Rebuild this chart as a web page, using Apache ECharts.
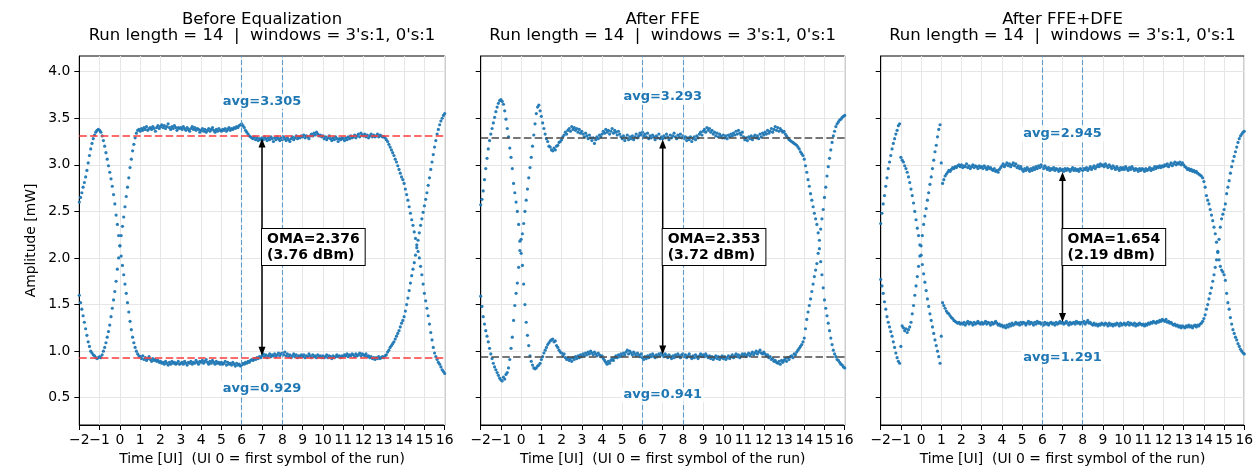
<!DOCTYPE html>
<html><head><meta charset="utf-8">
<script src="https://cdn.jsdelivr.net/npm/echarts@6/dist/echarts.min.js"></script>
<style>html,body{margin:0;padding:0;background:#fff}#c{width:1257px;height:472px}</style>
</head><body><div id="c"></div>
<script>
// ---------------- data ----------------
const X_START = -2;          // first sample time [UI]
const SAMPLES_PER_UI = 16;   // sample spacing of every trace
const X_MIN = -2, X_MAX = 16;
const X_TICKS = [-2,-1,0,1,2,3,4,5,6,7,8,9,10,11,12,13,14,15,16];
const Y_MIN = 0.207, Y_MAX = 4.168;
const Y_TICKS = [0.5, 1.0, 1.5, 2.0, 2.5, 3.0, 3.5, 4.0];
const PANEL_TITLES = ['Before Equalization', 'After FFE', 'After FFE+DFE'];
const SUBTITLE = "Run length = 14  |  windows = 3's:1, 0's:1";
const AVG_HIGH = [3.305, 3.293, 2.945];
const AVG_LOW = [0.929, 0.941, 1.291];
const OMA_MW = [2.376, 2.353, 1.654];
const OMA_DBM = [3.76, 3.72, 2.19];
const WINDOW_UI = [6, 8];
const ARROW_UI = 7;
const HI_LABEL_Y = [3.68, 3.73, 3.33];
const LO_LABEL_Y = [0.595, 0.53, 0.935];
const LEVEL_LINE = ['red', 'dark', 'none'];

// Panel 1: run of 3's (high) and run of 0's (low), 16 samples per UI from -2 to 16
const p1High = [
1.60,1.52,1.45,1.38,1.31,1.24,1.17,1.10,1.05,1.00,0.98,0.96,0.95,0.93,0.92,0.93,
0.94,0.93,0.96,1.00,1.04,1.09,1.15,1.21,1.28,1.37,1.46,1.55,1.64,1.75,1.88,2.00,
2.13,2.24,2.34,2.44,2.55,2.66,2.76,2.86,2.97,3.06,3.15,3.22,3.29,3.34,3.37,3.38,
3.36,3.39,3.37,3.40,3.38,3.41,3.37,3.39,3.40,3.38,3.41,3.39,3.36,3.40,3.42,3.39,
3.41,3.43,3.40,3.42,3.39,3.41,3.44,3.40,3.38,3.41,3.39,3.42,3.40,3.37,3.40,3.39,
3.40,3.38,3.41,3.39,3.37,3.40,3.38,3.36,3.39,3.41,3.38,3.40,3.37,3.39,3.38,3.35,
3.37,3.39,3.36,3.38,3.35,3.37,3.39,3.36,3.38,3.40,3.37,3.35,3.38,3.36,3.39,3.37,
3.36,3.38,3.37,3.39,3.36,3.38,3.40,3.37,3.39,3.38,3.40,3.39,3.41,3.40,3.42,3.43,
3.44,3.42,3.40,3.37,3.35,3.33,3.31,3.30,3.29,3.28,3.30,3.27,3.29,3.26,3.28,3.27,
3.29,3.27,3.30,3.28,3.26,3.29,3.27,3.30,3.28,3.25,3.29,3.27,3.30,3.28,3.26,3.29,
3.27,3.30,3.28,3.26,3.29,3.27,3.25,3.28,3.30,3.27,3.29,3.31,3.28,3.30,3.29,3.31,
3.30,3.32,3.29,3.31,3.30,3.28,3.31,3.33,3.31,3.34,3.32,3.35,3.33,3.31,3.32,3.30,
3.31,3.28,3.30,3.27,3.29,3.31,3.28,3.26,3.29,3.27,3.30,3.28,3.25,3.28,3.27,3.29,
3.28,3.26,3.29,3.27,3.30,3.28,3.31,3.29,3.30,3.32,3.29,3.31,3.33,3.30,3.34,3.32,
3.31,3.33,3.30,3.32,3.29,3.31,3.33,3.30,3.32,3.30,3.31,3.33,3.30,3.32,3.31,3.30,
3.30,3.29,3.27,3.25,3.22,3.19,3.16,3.13,3.10,3.06,3.03,2.99,2.95,2.91,2.87,2.84,
2.80,2.74,2.68,2.62,2.55,2.48,2.41,2.35,2.28,2.21,2.14,2.07,2.00,1.91,1.82,1.72,
1.62,1.54,1.46,1.38,1.29,1.20,1.12,1.04,0.98,0.94,0.91,0.88,0.86,0.83,0.80,0.78,
0.76];
const p1Low = [
2.60,2.65,2.70,2.76,2.81,2.87,2.94,3.02,3.10,3.17,3.23,3.28,3.32,3.35,3.37,3.38,
3.37,3.35,3.31,3.26,3.20,3.13,3.06,2.99,2.92,2.85,2.77,2.68,2.58,2.46,2.36,2.24,
2.13,2.02,1.92,1.82,1.72,1.62,1.52,1.42,1.32,1.23,1.15,1.09,1.04,1.00,0.97,0.95,
0.94,0.92,0.95,0.91,0.93,0.90,0.92,0.94,0.91,0.89,0.92,0.90,0.91,0.89,0.90,0.88,
0.89,0.87,0.88,0.86,0.89,0.87,0.85,0.88,0.86,0.89,0.87,0.88,0.86,0.87,0.89,0.86,
0.87,0.88,0.86,0.89,0.87,0.85,0.88,0.87,0.89,0.86,0.88,0.87,0.90,0.88,0.86,0.89,
0.88,0.90,0.87,0.89,0.91,0.88,0.86,0.89,0.87,0.90,0.88,0.86,0.89,0.87,0.88,0.86,
0.88,0.86,0.87,0.89,0.85,0.88,0.86,0.87,0.85,0.88,0.86,0.84,0.87,0.85,0.86,0.84,
0.85,0.87,0.86,0.88,0.87,0.89,0.88,0.90,0.91,0.90,0.92,0.91,0.93,0.92,0.94,0.93,
0.95,0.97,0.94,0.96,0.93,0.95,0.97,0.94,0.96,0.95,0.97,0.94,0.96,0.98,0.95,0.97,
0.98,0.96,0.99,0.95,0.97,0.94,0.96,0.93,0.95,0.97,0.94,0.96,0.93,0.95,0.94,0.96,
0.94,0.96,0.93,0.95,0.94,0.97,0.95,0.93,0.96,0.94,0.95,0.93,0.96,0.94,0.95,0.93,
0.95,0.93,0.94,0.96,0.93,0.95,0.94,0.92,0.95,0.93,0.94,0.96,0.94,0.95,0.93,0.95,
0.94,0.96,0.95,0.97,0.94,0.96,0.95,0.97,0.96,0.94,0.97,0.95,0.96,0.98,0.95,0.97,
0.96,0.95,0.97,0.94,0.95,0.93,0.94,0.92,0.93,0.91,0.93,0.92,0.94,0.92,0.93,0.94,
0.93,0.95,0.96,0.99,1.01,1.04,1.06,1.08,1.10,1.13,1.16,1.19,1.22,1.26,1.30,1.33,
1.37,1.43,1.50,1.57,1.65,1.73,1.81,1.88,1.95,2.03,2.11,2.19,2.27,2.35,2.42,2.49,
2.56,2.63,2.70,2.78,2.86,2.95,3.03,3.11,3.19,3.26,3.33,3.38,3.43,3.47,3.50,3.53,
3.55];

// Panel 2 (after FFE)
const p2High = [
1.59,1.48,1.37,1.29,1.22,1.16,1.10,1.03,0.97,0.92,0.87,0.83,0.80,0.77,0.74,0.71,
0.69,0.68,0.72,0.70,0.75,0.77,0.82,0.91,1.03,1.15,1.33,1.49,1.62,1.73,1.90,2.08,
2.20,2.26,2.37,2.50,2.62,2.74,2.86,2.97,3.08,3.20,3.32,3.44,3.55,3.62,3.64,3.58,
3.52,3.45,3.39,3.33,3.28,3.25,3.20,3.19,3.16,3.15,3.18,3.16,3.20,3.21,3.24,3.25,
3.27,3.30,3.32,3.35,3.33,3.37,3.39,3.36,3.41,3.38,3.40,3.37,3.39,3.35,3.38,3.34,
3.36,3.33,3.30,3.34,3.31,3.28,3.32,3.29,3.26,3.29,3.23,3.27,3.30,3.28,3.32,3.30,
3.33,3.36,3.34,3.38,3.35,3.37,3.33,3.36,3.39,3.34,3.37,3.35,3.32,3.36,3.33,3.30,
3.28,3.31,3.26,3.29,3.32,3.27,3.30,3.28,3.31,3.27,3.30,3.33,3.29,3.31,3.34,3.32,
3.35,3.31,3.33,3.30,3.34,3.28,3.31,3.29,3.32,3.30,3.27,3.31,3.29,3.33,3.28,3.30,
3.28,3.31,3.29,3.33,3.30,3.27,3.32,3.29,3.31,3.34,3.30,3.28,3.32,3.30,3.33,3.29,
3.31,3.28,3.30,3.26,3.29,3.27,3.30,3.25,3.28,3.30,3.27,3.31,3.29,3.33,3.35,3.32,
3.36,3.38,3.35,3.40,3.37,3.39,3.35,3.37,3.33,3.35,3.31,3.34,3.30,3.33,3.31,3.29,
3.32,3.29,3.31,3.28,3.32,3.30,3.33,3.31,3.34,3.32,3.36,3.33,3.37,3.34,3.32,3.35,
3.30,3.27,3.29,3.26,3.30,3.28,3.31,3.27,3.30,3.32,3.29,3.31,3.28,3.33,3.30,3.34,
3.32,3.35,3.33,3.37,3.34,3.36,3.39,3.35,3.38,3.41,3.37,3.40,3.36,3.39,3.37,3.35,
3.36,3.33,3.31,3.29,3.27,3.26,3.25,3.24,3.23,3.22,3.21,3.19,3.17,3.14,3.12,3.10,
3.06,2.99,2.92,2.84,2.77,2.69,2.62,2.55,2.48,2.42,2.36,2.27,2.10,1.96,1.82,1.68,
1.55,1.46,1.38,1.30,1.22,1.14,1.07,1.01,0.97,0.94,0.91,0.90,0.88,0.86,0.85,0.83,
0.82];
const p2Low = [
2.57,2.63,2.72,2.84,2.96,3.07,3.17,3.26,3.33,3.39,3.45,3.51,3.57,3.62,3.66,3.69,
3.70,3.68,3.65,3.58,3.49,3.39,3.30,3.18,3.08,2.96,2.80,2.70,2.60,2.50,2.36,2.18,
2.05,1.92,1.72,1.50,1.31,1.17,1.06,0.95,0.89,0.85,0.82,0.81,0.82,0.84,0.85,0.87,
0.91,0.94,0.98,1.01,1.04,1.07,1.09,1.11,1.12,1.13,1.10,1.11,1.06,1.04,1.01,0.99,
0.98,0.95,0.97,0.93,0.91,0.93,0.90,0.92,0.89,0.93,0.91,0.94,0.92,0.95,0.93,0.96,
0.94,0.97,0.95,0.98,0.96,0.99,0.97,1.00,0.98,0.96,0.99,0.97,0.95,0.98,0.96,0.94,
0.95,0.92,0.90,0.88,0.86,0.89,0.87,0.90,0.92,0.90,0.93,0.95,0.93,0.96,0.94,0.97,
0.95,0.98,0.96,0.99,1.01,0.97,1.00,0.98,0.96,0.99,0.97,0.95,0.98,0.96,0.94,0.97,
0.93,0.91,0.94,0.92,0.95,0.93,0.96,0.94,0.97,0.95,0.93,0.96,0.94,0.97,0.95,0.98,
0.96,0.94,0.97,0.95,0.93,0.96,0.94,0.92,0.95,0.93,0.96,0.94,0.97,0.95,0.93,0.96,
0.97,0.94,0.96,0.93,0.95,0.97,0.94,0.92,0.95,0.93,0.96,0.94,0.92,0.95,0.97,0.94,
0.96,0.94,0.97,0.95,0.93,0.95,0.92,0.94,0.91,0.93,0.95,0.92,0.94,0.91,0.93,0.95,
0.92,0.94,0.91,0.93,0.95,0.92,0.94,0.96,0.93,0.95,0.97,0.94,0.96,0.93,0.95,0.97,
0.95,0.97,0.94,0.96,0.98,0.95,0.97,0.99,0.96,0.98,1.00,0.97,0.99,1.01,0.98,0.97,
0.99,0.97,0.95,0.96,0.93,0.94,0.91,0.92,0.89,0.90,0.88,0.87,0.89,0.86,0.90,0.88,
0.90,0.92,0.89,0.93,0.91,0.94,0.95,0.93,0.97,0.96,0.99,1.01,1.03,1.05,1.07,1.10,
1.14,1.24,1.34,1.42,1.49,1.56,1.64,1.72,1.80,1.87,1.94,2.05,2.19,2.31,2.42,2.52,
2.65,2.76,2.88,2.98,3.07,3.16,3.24,3.31,3.36,3.41,3.44,3.46,3.48,3.49,3.51,3.52,
3.53];

// Panel 3 (after FFE+DFE)
const p3High = [
1.77,1.70,1.62,1.53,1.45,1.37,1.31,1.26,1.21,1.16,1.10,1.04,0.98,0.93,0.89,0.87,
1.05,1.27,1.25,1.22,1.24,1.20,1.23,1.26,1.31,1.40,1.49,1.60,1.70,1.80,1.91,2.02,
2.13,2.24,2.36,2.45,2.53,2.62,2.70,2.79,2.87,2.96,3.05,3.14,3.21,3.30,3.38,3.43,
3.02,2.80,2.84,2.88,2.90,2.92,2.94,2.93,2.95,2.97,2.96,2.98,2.97,2.99,3.00,2.98,
3.00,2.97,2.99,2.98,3.01,2.97,2.99,2.96,2.98,3.00,2.97,2.99,2.98,2.96,2.99,2.97,
2.98,2.96,2.99,2.97,2.95,2.98,2.96,2.97,2.95,2.94,2.96,2.93,2.94,2.92,2.95,2.97,
2.99,3.01,2.98,3.00,3.02,2.99,3.01,2.98,3.00,3.02,2.99,3.01,2.97,2.99,2.96,2.98,
2.95,2.93,2.96,2.94,2.97,2.95,2.93,2.96,2.94,2.97,2.95,2.98,2.96,2.99,2.97,3.00,
2.98,2.96,2.99,2.97,2.95,2.97,2.94,2.96,2.95,2.97,2.94,2.96,2.95,2.93,2.96,2.94,
2.95,2.93,2.96,2.94,2.96,2.95,2.93,2.95,2.97,2.94,2.96,2.94,2.95,2.93,2.96,2.95,
2.94,2.96,2.95,2.97,2.94,2.96,2.98,2.95,2.97,2.99,2.96,2.98,3.00,2.98,3.01,2.99,
3.00,2.98,3.01,2.99,2.97,3.00,2.98,2.96,2.99,2.97,2.95,2.98,2.96,2.94,2.97,2.95,
2.97,2.95,2.98,2.96,2.94,2.97,2.95,2.98,2.96,2.94,2.96,2.95,2.93,2.96,2.94,2.96,
2.95,2.93,2.96,2.94,2.95,2.97,2.94,2.96,2.95,2.98,2.96,2.98,2.97,2.99,2.97,2.99,
2.98,3.00,2.99,3.01,2.98,3.00,3.02,2.99,3.01,3.03,3.00,3.02,3.01,3.03,3.00,3.02,
3.00,2.98,2.97,2.95,2.96,2.94,2.95,2.93,2.94,2.92,2.93,2.91,2.90,2.89,2.88,2.86,
2.82,2.76,2.67,2.62,2.58,2.52,2.46,2.40,2.33,2.26,2.17,2.07,1.98,1.91,1.87,1.85,
1.82,1.76,1.62,1.52,1.45,1.36,1.29,1.23,1.19,1.15,1.12,1.08,1.05,1.02,1.00,0.98,
0.97];
const p3Low = [
2.37,2.48,2.58,2.67,2.77,2.86,2.96,3.03,3.10,3.17,3.23,3.28,3.33,3.37,3.42,3.44,
3.08,3.05,3.03,2.99,2.96,2.92,2.87,2.81,2.74,2.67,2.59,2.50,2.41,2.32,2.24,2.14,
2.03,1.93,1.83,1.74,1.65,1.56,1.48,1.40,1.33,1.26,1.19,1.12,1.06,1.00,0.94,0.87,
1.16,1.52,1.49,1.46,1.43,1.41,1.40,1.38,1.36,1.35,1.33,1.32,1.31,1.30,1.31,1.29,
1.30,1.29,1.31,1.28,1.30,1.32,1.29,1.31,1.30,1.28,1.31,1.29,1.30,1.32,1.30,1.29,
1.31,1.29,1.30,1.32,1.29,1.31,1.30,1.28,1.31,1.29,1.30,1.32,1.30,1.28,1.29,1.27,
1.28,1.26,1.27,1.25,1.28,1.26,1.29,1.27,1.30,1.28,1.29,1.31,1.29,1.30,1.28,1.31,
1.29,1.31,1.30,1.28,1.30,1.32,1.29,1.31,1.30,1.28,1.31,1.29,1.32,1.30,1.31,1.29,
1.30,1.28,1.31,1.29,1.30,1.28,1.30,1.31,1.29,1.30,1.28,1.31,1.29,1.30,1.32,1.30,
1.31,1.29,1.30,1.32,1.30,1.28,1.31,1.29,1.30,1.31,1.29,1.32,1.30,1.31,1.29,1.31,
1.30,1.32,1.29,1.31,1.33,1.30,1.31,1.29,1.28,1.30,1.28,1.29,1.27,1.29,1.28,1.30,
1.29,1.28,1.30,1.29,1.27,1.30,1.28,1.29,1.27,1.29,1.28,1.30,1.29,1.27,1.30,1.28,
1.29,1.30,1.28,1.29,1.31,1.28,1.30,1.29,1.28,1.30,1.27,1.29,1.28,1.30,1.29,1.28,
1.29,1.27,1.29,1.28,1.30,1.29,1.31,1.30,1.32,1.31,1.30,1.32,1.31,1.33,1.32,1.34,
1.33,1.32,1.34,1.31,1.32,1.30,1.31,1.29,1.28,1.29,1.27,1.28,1.26,1.27,1.25,1.27,
1.26,1.25,1.27,1.26,1.28,1.26,1.27,1.25,1.27,1.28,1.26,1.28,1.27,1.29,1.30,1.32,
1.35,1.39,1.45,1.50,1.56,1.62,1.68,1.75,1.82,1.90,1.98,2.06,2.20,2.33,2.42,2.47,
2.52,2.58,2.69,2.76,2.83,2.91,2.98,3.04,3.09,3.14,3.19,3.24,3.28,3.31,3.33,3.35,
3.36];

const TRACES = [[p1High, p1Low], [p2High, p2Low], [p3High, p3Low]];

// ---------------- layout / style ----------------
const FONT = "'DejaVu Sans', sans-serif";
const BLUE = '#1f77b4';
const WINDOW_COLOR = '#5d9ccb';
const GRIDS = [
  { left: 79.3, top: 56, width: 365.4, height: 369 },
  { left: 480.7, top: 56, width: 364, height: 369 },
  { left: 880.7, top: 56, width: 363.6, height: 369 }
];

function toPoints(arr) {
  return arr.map((y, i) => [X_START + i / SAMPLES_PER_UI, y]);
}
function fmtX(v) { return v < 0 ? '\u2212' + (-v) : String(v); }

function annoRenderer(k) {
  return function (params, api) {
    const top = api.coord([ARROW_UI, AVG_HIGH[k]]);
    const bot = api.coord([ARROW_UI, AVG_LOW[k]]);
    const mid = api.coord([ARROW_UI, (AVG_HIGH[k] + AVG_LOW[k]) / 2]);
    const hiL = api.coord([ARROW_UI, HI_LABEL_Y[k]]);
    const loL = api.coord([ARROW_UI, LO_LABEL_Y[k]]);
    const x = top[0];
    const shrink = 2, hl = 9, hw = 3.5;
    const yT = top[1] + shrink, yB = bot[1] - shrink;
    const avgStyle = (t) => ({
      text: t, fill: BLUE, font: 'bold 13px ' + FONT,
      align: 'center', verticalAlign: 'middle',
      backgroundColor: 'rgba(255,255,255,0.85)', padding: [1, 2]
    });
    const children = [
      { type: 'line', shape: { x1: x, y1: yT + hl - 1, x2: x, y2: yB - hl + 1 },
        style: { stroke: '#000', lineWidth: 1.5 } },
      { type: 'polygon', shape: { points: [[x, yT], [x - hw, yT + hl], [x + hw, yT + hl]] },
        style: { fill: '#000' } },
      { type: 'polygon', shape: { points: [[x, yB], [x - hw, yB - hl], [x + hw, yB - hl]] },
        style: { fill: '#000' } },
      { type: 'text', x: hiL[0], y: hiL[1], style: avgStyle('avg=' + AVG_HIGH[k].toFixed(3)) },
      { type: 'text', x: loL[0], y: loL[1], style: avgStyle('avg=' + AVG_LOW[k].toFixed(3)) },
      { type: 'text', x: x, y: mid[1], z2: 10,
        style: {
          text: 'OMA=' + OMA_MW[k].toFixed(3) + '\n(' + OMA_DBM[k].toFixed(2) + ' dBm)',
          fill: '#000', font: 'bold 14px ' + FONT, lineHeight: 16,
          align: 'left', verticalAlign: 'middle',
          backgroundColor: '#fff', borderColor: '#000', borderWidth: 1, padding: [2, 5]
        } }
    ];
    // x tick labels, placed through the axis scale (all of them, like matplotlib)
    X_TICKS.forEach(t => {
      const p = api.coord([t, Y_MIN]);
      children.push({ type: 'text', x: p[0], y: p[1] + 8,
        style: { text: fmtX(t), fill: '#000', font: '13.9px ' + FONT, align: 'center', verticalAlign: 'top' } });
    });
    return { type: 'group', children };
  };
}

const grid = [], xAxis = [], yAxis = [], series = [], graphic = [];
for (let k = 0; k < 3; k++) {
  grid.push(Object.assign({ show: true, borderColor: '#000', borderWidth: 1, backgroundColor: 'transparent' }, GRIDS[k]));
  xAxis.push({
    type: 'value', gridIndex: k, min: X_MIN, max: X_MAX, interval: 1,
    name: 'Time [UI]  (UI 0 = first symbol of the run)', nameLocation: 'middle', nameGap: 27,
    nameTextStyle: { fontFamily: FONT, fontSize: 13.9, color: '#000' },
    axisLine: { show: true, onZero: false, lineStyle: { color: '#000', width: 1 } },
    axisTick: { show: true, length: 5, lineStyle: { color: '#000', width: 1 } },
    axisLabel: { show: false },
    splitLine: { show: true, lineStyle: { color: '#e6e6e6', width: 1 } }
  });
  yAxis.push({
    type: 'value', gridIndex: k, min: Y_MIN, max: Y_MAX, minInterval: 0.5, maxInterval: 0.5,
    name: k === 0 ? 'Amplitude [mW]' : '', nameLocation: 'middle', nameGap: 41,
    nameTextStyle: { fontFamily: FONT, fontSize: 13.9, color: '#000' },
    axisLine: { show: true, onZero: false, lineStyle: { color: '#000', width: 1 } },
    axisTick: { show: true, length: 5, customValues: Y_TICKS, lineStyle: { color: '#000', width: 1 } },
    axisLabel: { show: k === 0, customValues: Y_TICKS, margin: 9, formatter: (v) => v.toFixed(1),
      fontFamily: FONT, fontSize: 13.9, color: '#000' },
    splitLine: { show: true, lineStyle: { color: '#e6e6e6', width: 1 } }
  });

  // vertical window lines
  series.push({
    type: 'line', xAxisIndex: k, yAxisIndex: k, data: [], silent: true, z: 3,
    markLine: {
      silent: true, symbol: 'none', label: { show: false }, animation: false,
      lineStyle: { color: WINDOW_COLOR, width: 1.1, type: [5, 2.5], opacity: 1 },
      emphasis: { disabled: true },
      data: WINDOW_UI.map(u => ({ xAxis: u }))
    }
  });
  // horizontal level lines
  if (LEVEL_LINE[k] !== 'none') {
    const col = LEVEL_LINE[k] === 'red' ? '#ff3b3b' : '#4a4a4a';
    series.push({
      type: 'line', xAxisIndex: k, yAxisIndex: k, data: [], silent: true, z: 4,
      markLine: {
        silent: true, symbol: 'none', label: { show: false }, animation: false,
        lineStyle: { color: col, width: 1.5, type: [7.5, 3.3], opacity: 1 },
        emphasis: { disabled: true },
        data: [{ yAxis: AVG_HIGH[k] }, { yAxis: AVG_LOW[k] }]
      }
    });
  }

  TRACES[k].forEach((arr) => {
    series.push({
      type: 'scatter', xAxisIndex: k, yAxisIndex: k, data: toPoints(arr),
      symbolSize: 3.2, itemStyle: { color: BLUE, opacity: 0.95 }, silent: true, z: 2
    });
  });
  series.push({
    type: 'custom', xAxisIndex: k, yAxisIndex: k, data: [[ARROW_UI, 0]], silent: true, clip: false, z: 5,
    renderItem: annoRenderer(k)
  });

  const cx = GRIDS[k].left + GRIDS[k].width / 2;
  graphic.push({ type: 'text', x: cx, y: 19.5, style: { text: PANEL_TITLES[k], font: '16.5px ' + FONT, fill: '#000', align: 'center', verticalAlign: 'middle' } });
  graphic.push({ type: 'text', x: cx, y: 36, style: { text: SUBTITLE, font: '16.5px ' + FONT, fill: '#000', align: 'center', verticalAlign: 'middle' } });
}

const chart = echarts.init(document.getElementById('c'), null, { renderer: 'canvas' });
chart.setOption({
  animation: false,
  backgroundColor: '#fff',
  grid, xAxis, yAxis, series, graphic
});
</script>
</body></html>
